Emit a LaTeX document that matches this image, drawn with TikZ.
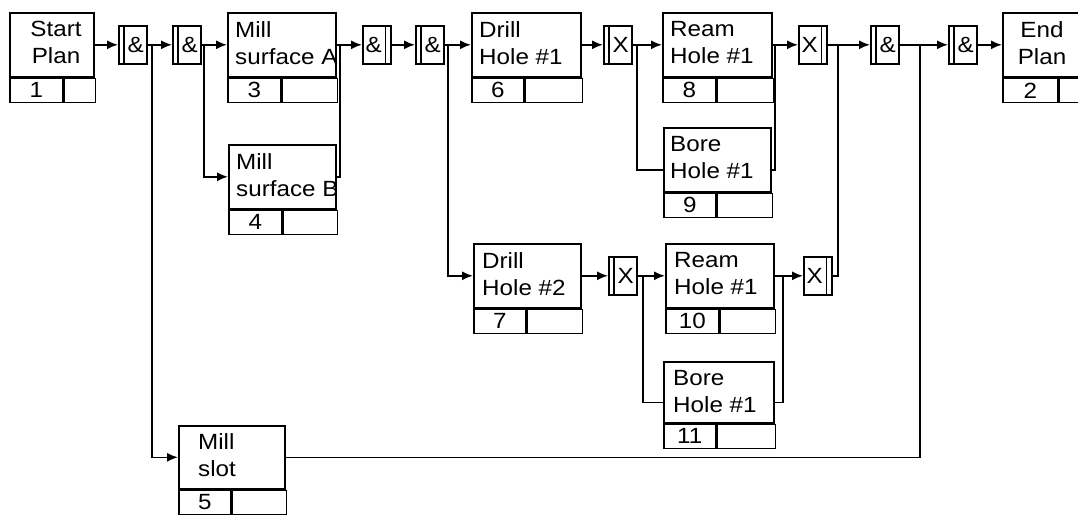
\documentclass[tikz,border=0pt]{standalone}
\usepackage{fontspec}
\setmainfont{Liberation Sans}
\newfontfamily\lblfont[FakeStretch=1.1]{Liberation Sans}
\usetikzlibrary{arrows.meta,calc}

\tikzset{
  ln/.style={line width=1.6pt},
  arr/.style={line width=1.6pt,-{Latex[length=11pt,width=9pt]}},
  uobtop/.style={draw,line width=1.6pt,inner sep=0pt,rectangle},
  uobnum/.style={draw,line width=1.6pt,inner sep=0pt,font=\lblfont\fontsize{22}{24}\selectfont},
  lbl/.style={inner sep=0pt,font=\lblfont\fontsize{22}{27}\selectfont,align=left},
  junc/.style={draw,line width=1.6pt,inner sep=0pt,minimum width=28pt,minimum height=38pt},
  jsym/.style={inner sep=0pt,font=\lblfont\fontsize{22}{24}\selectfont},
}

% name, x, top, width, text-area height, split offset, number
\newcommand{\uobox}[7]{%
  \node[uobtop,minimum width=#4,minimum height=#5,anchor=north west] (#1) at (#2,#3) {};
  \node[uobnum,minimum width=#6,minimum height=24,anchor=north west] (#1n) at (#1.south west) {#7};
  \node[uobnum,minimum width={#4-#6},minimum height=24,anchor=north west] (#1e) at (#1n.north east) {};
}
% junction with bar on the left
\newcommand{\juncL}[4]{%
  \node[junc,anchor=north west] (#1) at (#2,#3) {};
  \node[jsym] (#1s) at ($(#1.center)+(3,0)$) {#4};
  \draw[ln] ($(#1.north west)+(6,0)$) -- ($(#1.south west)+(6,0)$);
}
% junction with bar on the right
\newcommand{\juncR}[4]{%
  \node[junc,anchor=north west] (#1) at (#2,#3) {};
  \node[jsym] (#1s) at ($(#1.center)+(-3,0)$) {#4};
  \draw[ln] ($(#1.north east)+(-6,0)$) -- ($(#1.south east)+(-6,0)$);
}

\begin{document}
\begin{tikzpicture}[x=1pt,y=-1pt]
\useasboundingbox (0,0) rectangle (1078,515);

% unit-of-behaviour boxes
\uobox{b1}{9}{12}{84}{64}{53}{1}
\uobox{b3}{227}{12}{108}{64}{53}{3}
\uobox{b4}{228}{144}{107}{64}{53}{4}
\uobox{b5}{178}{425}{106}{63}{52}{5}
\uobox{b6}{471}{12}{109}{64}{52}{6}
\uobox{b7}{473}{243}{107}{64}{52}{7}
\uobox{b8}{662}{12}{109}{64}{53}{8}
\uobox{b9}{663}{127}{107}{64}{52}{9}
\uobox{b10}{665}{243}{108}{64}{53}{10}
\uobox{b11}{663}{361}{110}{61}{52}{11}
\uobox{b2}{1002}{12}{86}{64}{55}{2}

% labels
\node[lbl,align=center,anchor=north] (b1t) at ($(b1.north west)+(47,9)$) {Start\\Plan};
\node[lbl,anchor=north west] (b3t) at ($(b3.north west)+(8,9)$) {Mill\\surface A};
\node[lbl,anchor=north west] (b4t) at ($(b4.north west)+(8,9)$) {Mill\\surface B};
\node[lbl,anchor=north west] (b5t) at ($(b5.north west)+(20,8)$) {Mill\\slot};
\node[lbl,anchor=north west] (b6t) at ($(b6.north west)+(8,9)$) {Drill\\Hole \#1};
\node[lbl,anchor=north west] (b7t) at ($(b7.north west)+(9,9)$) {Drill\\Hole \#2};
\node[lbl,anchor=north west] (b8t) at ($(b8.north west)+(8,9)$) {Ream\\Hole \#1};
\node[lbl,anchor=north west] (b9t) at ($(b9.north west)+(7,9)$) {Bore\\Hole \#1};
\node[lbl,anchor=north west] (b10t) at ($(b10.north west)+(9,9)$) {Ream\\Hole \#1};
\node[lbl,anchor=north west] (b11t) at ($(b11.north west)+(10,9)$) {Bore\\Hole \#1};
\node[lbl,align=center,anchor=north] (b2t) at ($(b2.north west)+(40,9)$) {End\\Plan};

% junctions
\juncL{J1}{118}{25}{\&}
\juncL{J2}{172}{25}{\&}
\juncR{J3}{362}{25}{\&}
\juncL{J4}{415}{25}{\&}
\juncL{X5}{603}{25}{X}
\juncR{X6}{798}{25}{X}
\juncL{J7}{870}{25}{\&}
\juncL{J8}{948}{25}{\&}
\juncL{X9}{608}{256}{X}
\juncR{X10}{803}{256}{X}

% branch / join points
\coordinate (c1) at (152,44);
\coordinate (c2) at (204,44);
\coordinate (k1) at (340,44);
\coordinate (c4) at (448,44);
\coordinate (c5) at (637,44);
\coordinate (k3) at (775,44);
\coordinate (k4) at (838,44);
\coordinate (k5) at (920,44);
\coordinate (c6) at (643,275);
\coordinate (k6) at (783,275);

% connectors
\draw[arr] (b1.east) -- (J1.west);
\draw[arr] (J1.east) -- (J2.west);
\draw[arr] (c1) |- (b5.west);
\draw[arr] (J2.east) -- (b3.west);
\draw[arr] (c2) |- (b4.west);
\draw[arr] (b3.east) -- (J3.west);
\draw[ln] (b4.east) -| (k1);
\draw[arr] (J3.east) -- (J4.west);
\draw[arr] (J4.east) -- (b6.west);
\draw[arr] (c4) |- (b7.west);
\draw[arr] (b6.east) -- (X5.west);
\draw[arr] (X5.east) -- (b8.west);
\draw[ln] (c5) |- ($(b9.west)+(0,10)$);
\draw[arr] (b8.east) -- (X6.west);
\draw[ln] ($(b9.east)+(0,10)$) -| (k3);
\draw[arr] (X6.east) -- (J7.west);
\draw[ln] (X10.east) -| (k4);
\draw[arr] (J7.east) -- (J8.west);
\draw[ln] (b5.east) -| (k5);
\draw[arr] (J8.east) -- (b2.west);
\draw[arr] (b7.east) -- (X9.west);
\draw[arr] (X9.east) -- (b10.west);
\draw[ln] (c6) |- ($(b11.west)+(0,10)$);
\draw[arr] (b10.east) -- (X10.west);
\draw[ln] ($(b11.east)+(0,10)$) -| (k6);
\end{tikzpicture}
\end{document}
